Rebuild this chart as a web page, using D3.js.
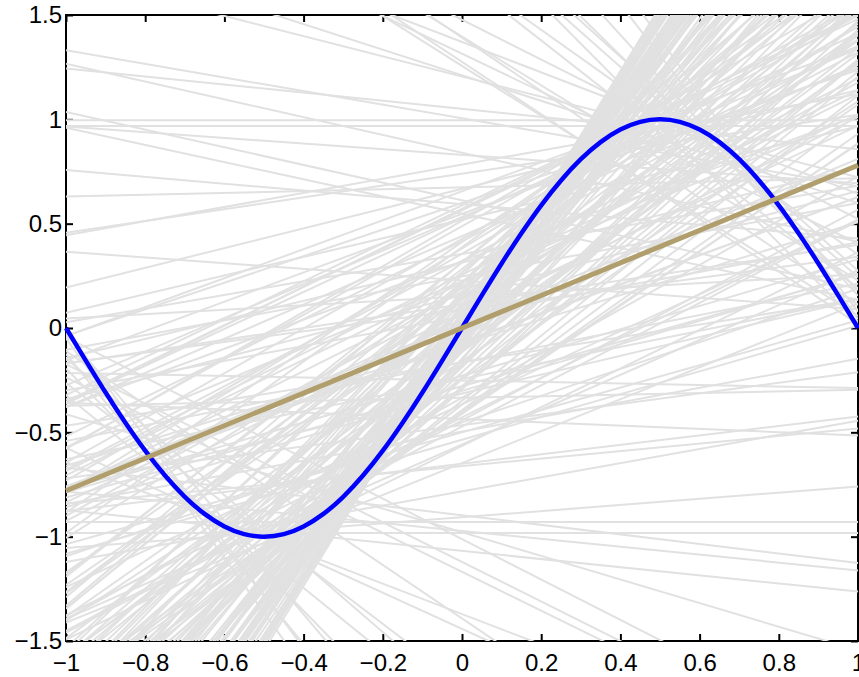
<!DOCTYPE html>
<html>
<head>
<meta charset="utf-8">
<script src="https://cdn.jsdelivr.net/npm/d3@7"></script>
<style>
  body { margin: 0; background: #fff; }
</style>
</head>
<body>
<div id="chart"></div>
<script>
// Step 1: data
//================================
var xTicks = [-1, -0.8, -0.6, -0.4, -0.2, 0, 0.2, 0.4, 0.6, 0.8, 1];
var yTicks = [-1.5, -1, -0.5, 0, 0.5, 1, 1.5];

// target curve, sampled every 0.05 from -1 to 1
var curveX = d3.range(41).map(i => -1 + i * 0.05);
var curveY = [0, -0.156, -0.309, -0.454, -0.588, -0.707, -0.809, -0.891, -0.951, -0.988,
  -1, -0.988, -0.951, -0.891, -0.809, -0.707, -0.588, -0.454, -0.309, -0.156,
  0, 0.156, 0.309, 0.454, 0.588, 0.707, 0.809, 0.891, 0.951, 0.988,
  1, 0.988, 0.951, 0.891, 0.809, 0.707, 0.588, 0.454, 0.309, 0.156, 0];

// average hypothesis (end points)
var avgLineX = [-1, 1];
var avgLineY = [-0.78, 0.78];

// each grey hypothesis is the line through two sample points on the curve
var hypPairs = [
  [-0.93, 0.27], [-0.88, -0.14], [-0.85, 0.71], [-0.81, -0.62], [-0.79, 0.44],
  [-0.76, 0.93], [-0.74, -0.31], [-0.71, 0.08], [-0.69, 0.58], [-0.66, -0.97],
  [-0.64, 0.36], [-0.61, -0.05], [-0.59, 0.82], [-0.56, -0.44], [-0.54, 0.19],
  [-0.52, 0.66], [-0.49, -0.83], [-0.47, 0.51], [-0.45, -0.21], [-0.43, 0.97],
  [-0.41, 0.03], [-0.38, 0.74], [-0.36, -0.68], [-0.34, 0.29], [-0.31, -0.92],
  [-0.29, 0.55], [-0.27, 0.12], [-0.24, 0.86], [-0.22, -0.39], [-0.19, 0.41],
  [-0.17, -0.77], [-0.14, 0.63], [-0.12, 0.24], [-0.09, 0.91], [-0.07, -0.57],
  [-0.04, 0.47], [-0.02, -0.26], [0.01, 0.78], [0.03, -0.95], [0.06, 0.34],
  [0.08, 0.69], [0.11, -0.48], [0.13, 0.52], [0.16, 0.95], [0.18, -0.11],
  [0.21, 0.61], [0.23, -0.72], [0.26, 0.84], [0.28, 0.43], [0.31, -0.35],
  [0.33, 0.99], [0.36, 0.57], [0.38, -0.86], [0.41, 0.72], [0.43, 0.14],
  [0.46, 0.88], [0.48, -0.53], [0.51, 0.64], [0.53, -0.18], [0.56, 0.81],
  [0.58, -0.99], [0.61, 0.76], [0.63, 0.31], [0.66, -0.28], [0.68, -0.64],
  [0.71, 0.87], [0.73, 0.02], [0.76, -0.36], [0.78, -0.29], [0.81, 0.06],
  [0.83, -0.79], [-0.86, 0.48], [0.88, 0.39], [0.91, -0.46], [0.93, -0.12],
  [0.96, -0.09], [0.98, 0.49], [-0.97, -0.58], [-0.95, 0.04], [-0.91, 0.53],
  [-0.89, -0.33], [-0.86, 0.96], [-0.83, 0.16], [-0.8, -0.73], [-0.77, 0.68],
  [-0.73, -0.19], [-0.7, 0.39], [-0.67, -0.51], [-0.63, 0.87], [-0.6, 0.23],
  [-0.57, -0.36], [-0.55, 0.59], [-0.51, -0.64], [-0.48, 0.07], [-0.46, 0.79],
  [-0.42, -0.11], [-0.39, 0.46], [-0.37, -0.94], [-0.33, 0.18], [-0.3, 0.93],
  [-0.26, -0.53], [-0.23, 0.37], [-0.2, 0.71], [-0.16, -0.27], [-0.13, 0.58],
  [-0.11, -0.88], [-0.06, 0.22], [-0.03, 0.83], [0.02, 0.44], [0.04, -0.69],
  [0.07, 0.97], [0.09, -0.15], [0.12, 0.66], [0.14, -0.41], [0.17, 0.29],
  [0.19, 0.85], [0.22, -0.81], [0.24, 0.53], [0.27, -0.02], [0.29, 0.74],
  [0.32, -0.59], [0.34, 0.47], [0.37, 0.94], [0.39, -0.24], [0.42, 0.62],
  [0.44, -0.91], [0.47, 0.53], [0.49, 0.09], [0.52, 0.77], [0.54, -0.43],
  [0.57, -0.61], [0.59, 0.26], [0.62, -0.75], [0.64, 0.83], [0.67, -0.07],
  [0.69, 0.21], [0.72, 0.35], [0.74, -0.56], [0.77, 0.89], [0.79, 0.13],
  [0.82, -0.97], [0.84, 0.58], [0.87, -0.22], [-0.9, 0.7], [0.92, 0.05],
  [0.95, -0.66], [0.97, 0.33], [-0.98, -0.27], [-0.9, -0.48], [-0.84, -0.06],
  [-0.75, -0.89], [-0.65, -0.23], [-0.58, -0.75], [-0.5, -0.16], [-0.44, -0.6],
  [-0.35, -0.08], [-0.25, -0.71], [-0.18, 0.09], [-0.1, -0.37], [-0.01, 0.15],
  [0.1, 0.25], [0.2, 0.45], [0.3, 0.6], [0.4, 0.8], [0.5, 0.7],
  [0.6, -0.04], [0.45, 0.65], [0.42, 0.58], [-0.55, -0.42], [-0.62, -0.38],
  [-0.32, 0.08], [-0.21, 0.17], [-0.15, 0.33], [-0.08, 0.12], [0.05, 0.38],
  [-0.28, -0.05], [-0.4, 0.1], [0.15, 0.4], [-0.12, 0.2], [-0.35, 0.25],
  [0.22, 0.31], [-0.26, 0.02], [0.0, 0.3], [-0.18, -0.02], [0.08, 0.18],
  [-0.96, 0.12], [-0.92, 0.41], [-0.87, 0.21], [-0.82, 0.57], [-0.78, 0.03],
  [-0.72, 0.49], [-0.68, 0.15], [-0.62, 0.73], [-0.53, 0.33], [-0.44, 0.62],
  [-0.37, 0.39], [-0.31, 0.67], [-0.23, 0.52], [-0.16, 0.45], [-0.05, 0.56],
  [0.04, 0.63], [0.1, 0.49], [-0.3, 0.42], [-0.2, 0.27], [-0.1, 0.35],
  [-0.83, -0.3], [-0.77, -0.12], [-0.7, -0.25], [-0.93, -0.08], [-0.59, -0.02],
  [-0.99, 0.36], [0.64, -0.17], [0.72, -0.33], [0.86, -0.03], [0.79, -0.44],
  [0.93, 0.18], [0.99, -0.21], [0.68, 0.1], [0.75, 0.24], [0.88, 0.02],
  [-0.46, 0.28], [-0.39, 0.22], [0.35, -0.27], [0.26, -0.38], [-0.64, 0.44]
];

// Step 2: set up the chart
//================================
var svgWidth = 859;
var svgHeight = 677;

var margin = { top: 15, right: 1, bottom: 36, left: 66 };
var width = svgWidth - margin.left - margin.right;
var height = svgHeight - margin.top - margin.bottom;

var svg = d3.select("#chart")
  .append("svg")
  .attr("width", svgWidth)
  .attr("height", svgHeight);

var chartGroup = svg.append("g")
  .attr("transform", `translate(${margin.left}, ${margin.top})`);

var xScale = d3.scaleLinear().domain([-1, 1]).range([0, width]);
var yScale = d3.scaleLinear().domain([-1.5, 1.5]).range([height, 0]);

// Step 3: axes box with inward ticks
//================================
chartGroup.append("rect")
  .attr("width", width)
  .attr("height", height)
  .attr("fill", "none")
  .attr("stroke", "#000")
  .attr("stroke-width", 2);

var tickLen = 7;
var fmt = d => d3.format("")(d).replace("-", "\u2212");

var bottomAxis = d3.axisBottom(xScale).tickValues(xTicks).tickSizeInner(-tickLen).tickSizeOuter(0).tickPadding(13).tickFormat(fmt);
var leftAxis = d3.axisLeft(yScale).tickValues(yTicks).tickSizeInner(-tickLen).tickSizeOuter(0).tickPadding(4).tickFormat(fmt);

function styleAxis(g) {
  g.select(".domain").remove();
  g.selectAll(".tick line").attr("stroke", "#000").attr("stroke-width", 2);
  g.selectAll("text").attr("fill", "#000").style("font-size", "24px")
    .style("font-family", '"Liberation Sans", Arial, sans-serif');
}

chartGroup.append("g")
  .attr("transform", `translate(0, ${height})`)
  .call(bottomAxis)
  .call(styleAxis);

chartGroup.append("g")
  .call(leftAxis)
  .call(styleAxis);

// top and right ticks, no labels
chartGroup.append("g")
  .call(d3.axisTop(xScale).tickValues(xTicks).tickSizeInner(-tickLen).tickSizeOuter(0).tickFormat(""))
  .call(styleAxis);

chartGroup.append("g")
  .attr("transform", `translate(${width}, 0)`)
  .call(d3.axisRight(yScale).tickValues(yTicks).tickSizeInner(-tickLen).tickSizeOuter(0).tickFormat(""))
  .call(styleAxis);

// Step 4: grey hypotheses, clipped to the plot box
//================================
chartGroup.append("clipPath")
  .attr("id", "plotClip")
  .append("rect")
  .attr("width", width)
  .attr("height", height);

var hypGroup = chartGroup.append("g").attr("clip-path", "url(#plotClip)");

hypGroup.selectAll("line")
  .data(hypPairs)
  .enter()
  .append("line")
  .each(function(d) {
    var ya = Math.sin(Math.PI * d[0]);
    var yb = Math.sin(Math.PI * d[1]);
    var slope = (yb - ya) / (d[1] - d[0]);
    var y0 = ya + slope * (-1 - d[0]);
    var y1 = ya + slope * (1 - d[0]);
    d3.select(this)
      .attr("x1", xScale(-1))
      .attr("y1", yScale(y0))
      .attr("x2", xScale(1))
      .attr("y2", yScale(y1));
  })
  .attr("stroke", "#e1e1e1")
  .attr("stroke-width", 2);

// Step 5: target curve and average line
//================================
var curveData = curveX.map((x, i) => [x, curveY[i]]);

chartGroup.append("path")
  .datum(curveData)
  .attr("fill", "none")
  .attr("stroke", "#0000ff")
  .attr("stroke-width", 4.5)
  .attr("d", d3.line()
    .x(d => xScale(d[0]))
    .y(d => yScale(d[1]))
    .curve(d3.curveNatural));

chartGroup.append("path")
  .datum(avgLineX.map((x, i) => [x, avgLineY[i]]))
  .attr("fill", "none")
  .attr("stroke", "#b09e6c")
  .attr("stroke-width", 5)
  .attr("d", d3.line()
    .x(d => xScale(d[0]))
    .y(d => yScale(d[1])));
</script>
</body>
</html>
